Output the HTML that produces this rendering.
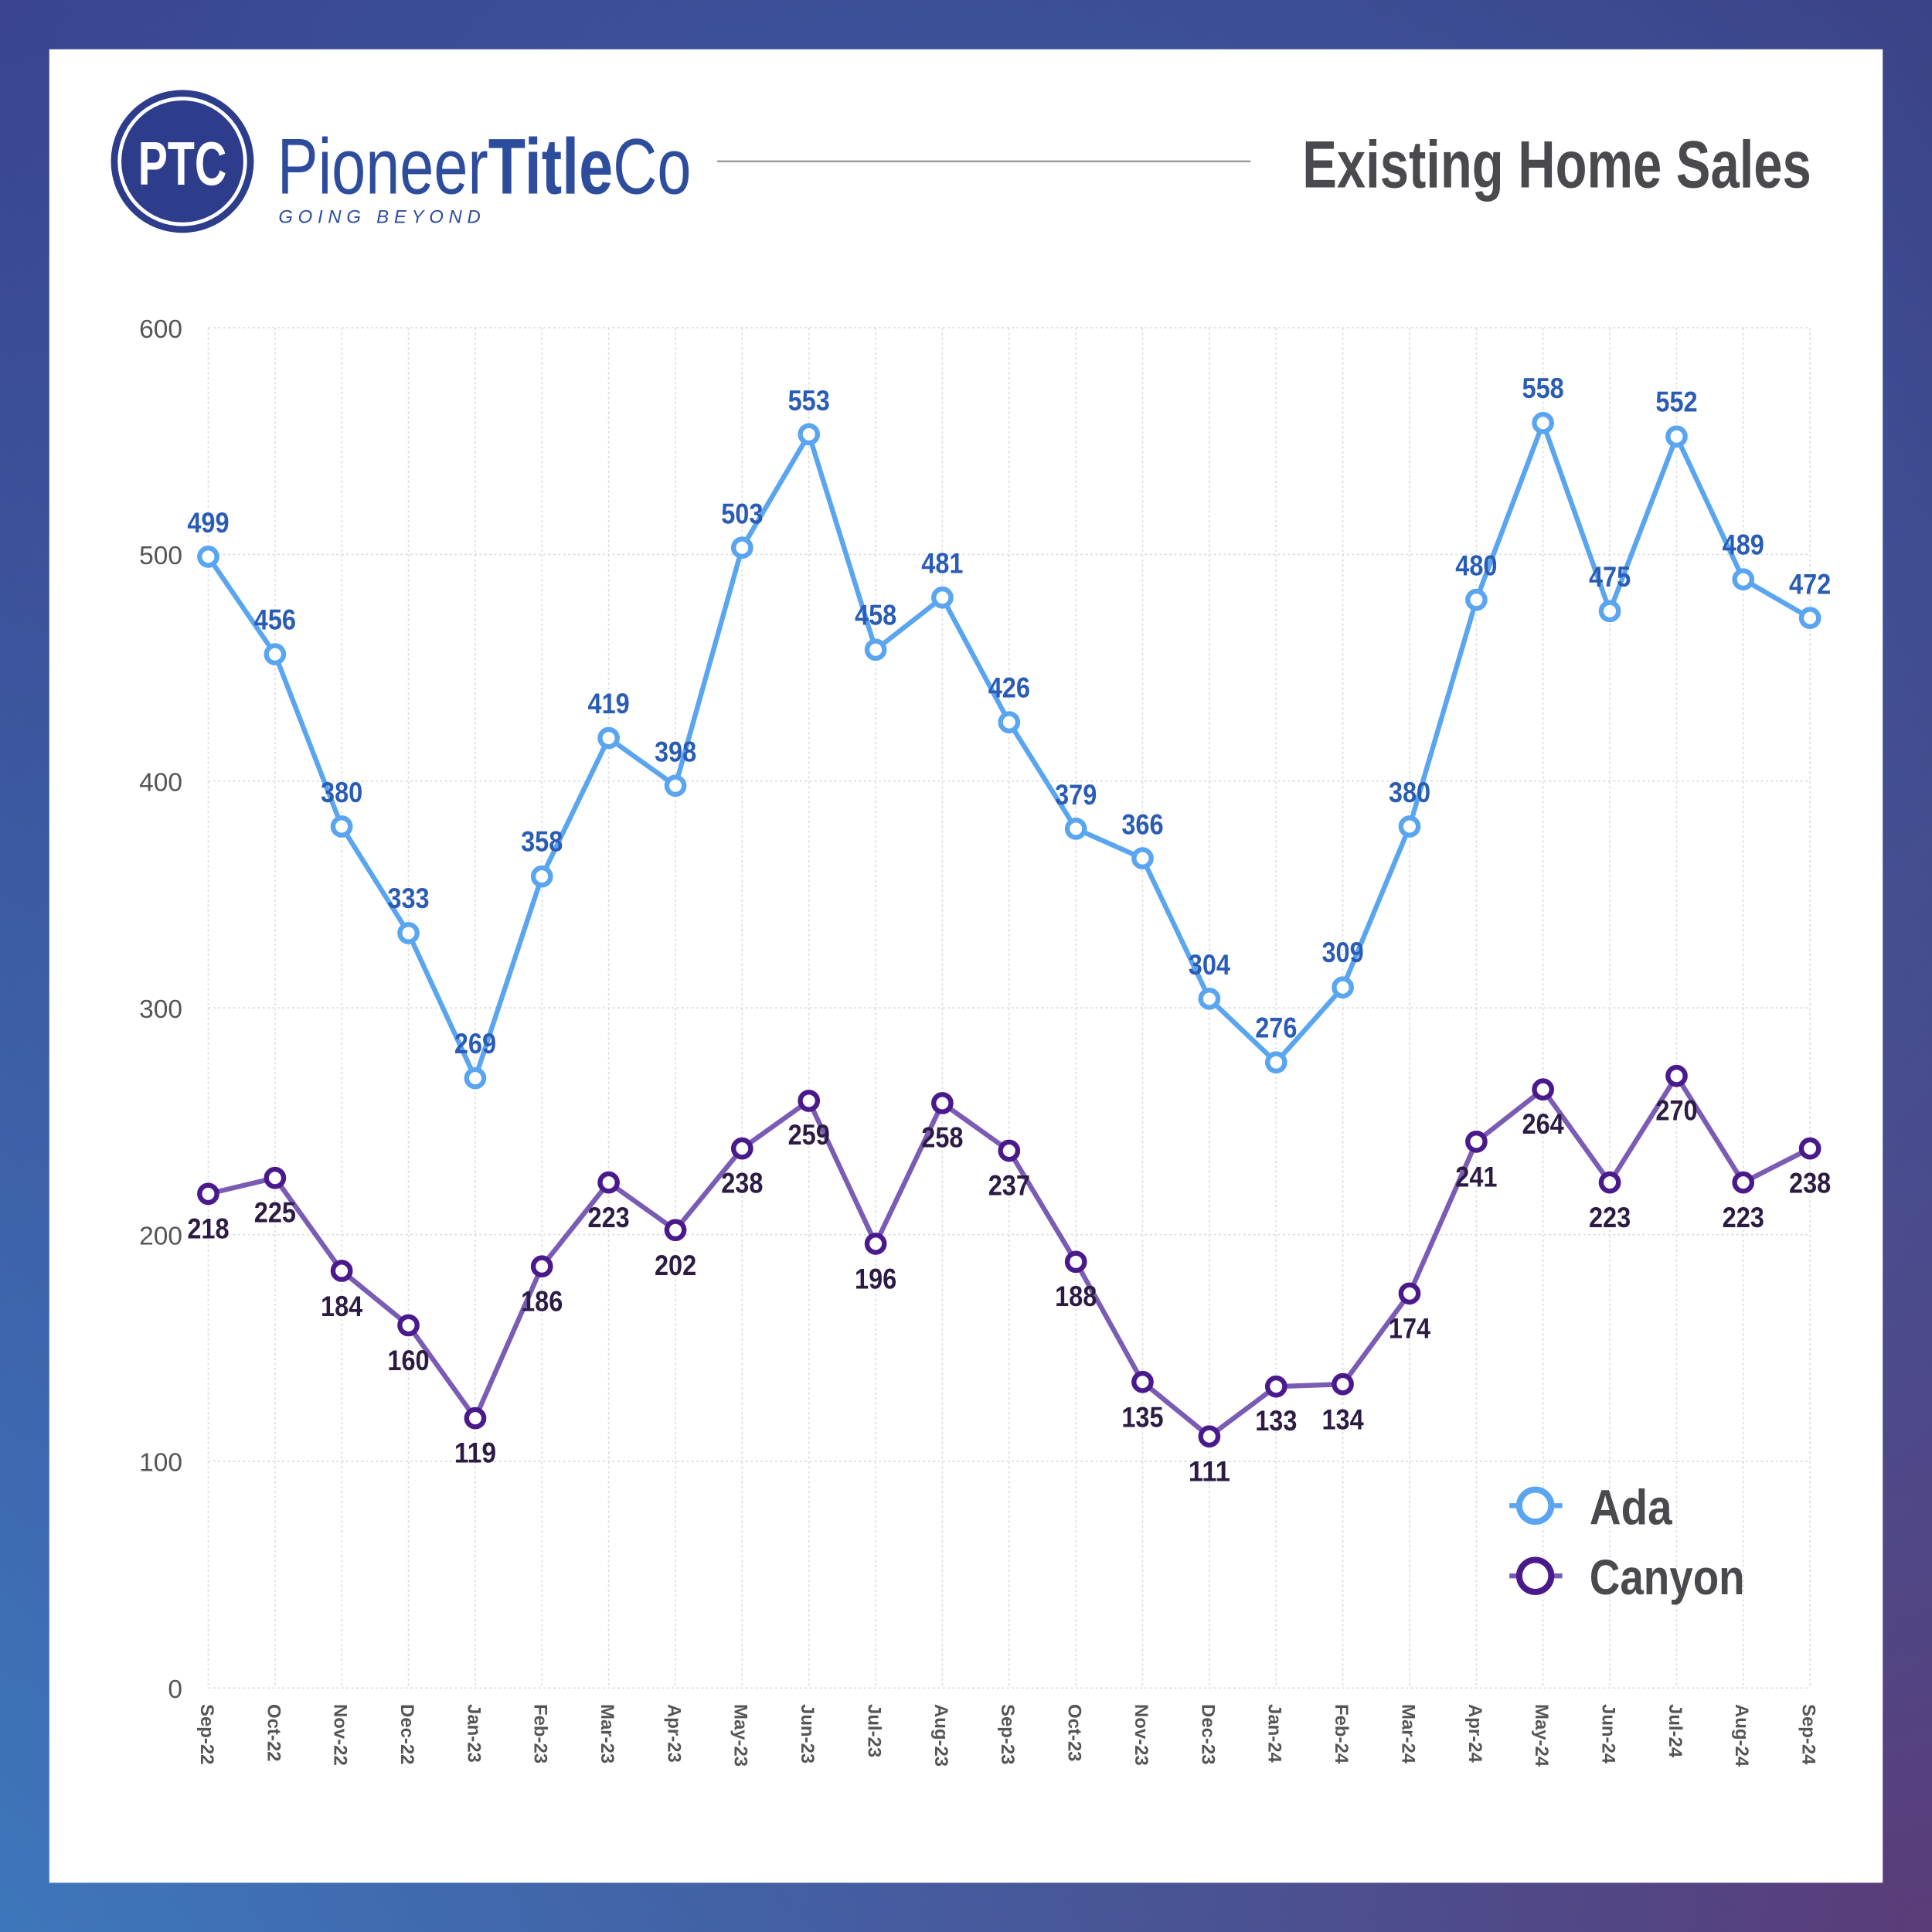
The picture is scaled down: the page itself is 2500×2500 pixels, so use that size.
<!DOCTYPE html>
<html><head><meta charset="utf-8"><style>
html,body{margin:0;padding:0;width:2500px;height:2500px;overflow:hidden}
svg{display:block}
.al{font-family:"Liberation Sans",sans-serif;font-weight:bold;font-size:23px;fill:#2a5cb4;text-anchor:middle}
.cl{font-family:"Liberation Sans",sans-serif;font-weight:bold;font-size:23px;fill:#2c1c44;text-anchor:middle}
.yl{font-family:"Liberation Sans",sans-serif;font-size:21px;fill:#555;text-anchor:end}
.xl{font-family:"Liberation Sans",sans-serif;font-weight:bold;font-size:15px;fill:#555}
</style></head><body>
<svg width="2500" height="2500" viewBox="0 0 1568 1568" xmlns="http://www.w3.org/2000/svg">
<defs>
<linearGradient id="bg" x1="0" y1="0" x2="1" y2="1">
<stop offset="0" stop-color="#3a4490"/><stop offset="0.5" stop-color="#3d62a8"/><stop offset="1" stop-color="#5a3c78"/>
</linearGradient>
<linearGradient id="bg2" x1="1" y1="0" x2="0" y2="1">
<stop offset="0" stop-color="#3b3a7e" stop-opacity="0.8"/><stop offset="0.5" stop-color="#3d5aa0" stop-opacity="0"/><stop offset="1" stop-color="#3f7cc0" stop-opacity="0.8"/>
</linearGradient>
</defs>
<rect width="1568" height="1568" fill="url(#bg)"/>
<rect width="1568" height="1568" fill="url(#bg2)"/>
<rect x="40" y="40" width="1488" height="1488" fill="#fff"/>
<!-- header -->
<circle cx="148" cy="131" r="58" fill="#2d3d8c"/>
<circle cx="148" cy="131" r="51" fill="none" stroke="#fff" stroke-width="3"/>
<text x="148" y="150" font-family="Liberation Sans,sans-serif" font-size="50" font-weight="bold" fill="#fff" text-anchor="middle" textLength="72" lengthAdjust="spacingAndGlyphs">PTC</text>
<text x="225" y="157" font-family="Liberation Sans,sans-serif" font-size="64" fill="#2d4c9c" textLength="336" lengthAdjust="spacingAndGlyphs">Pioneer<tspan font-weight="bold">Title</tspan>Co</text>
<text x="226" y="181" font-family="Liberation Sans,sans-serif" font-size="15" font-style="italic" fill="#2d4c9c" textLength="164" lengthAdjust="spacing">GOING BEYOND</text>
<line x1="582" y1="131" x2="1015" y2="131" stroke="#999" stroke-width="1.5"/>
<text x="1470" y="152" font-family="Liberation Sans,sans-serif" font-size="54" font-weight="bold" fill="#4a4a4e" text-anchor="end" textLength="413" lengthAdjust="spacingAndGlyphs">Existing Home Sales</text>
<!-- grid -->
<g stroke="#ddd" stroke-width="1" stroke-dasharray="2,2">
<line x1="169" y1="266" x2="1469" y2="266"/><line x1="169" y1="450" x2="1469" y2="450"/><line x1="169" y1="634" x2="1469" y2="634"/><line x1="169" y1="818" x2="1469" y2="818"/><line x1="169" y1="1002" x2="1469" y2="1002"/><line x1="169" y1="1186" x2="1469" y2="1186"/><line x1="169" y1="1370" x2="1469" y2="1370"/>
<line x1="169" y1="266" x2="169" y2="1370"/><line x1="223.2" y1="266" x2="223.2" y2="1370"/><line x1="277.3" y1="266" x2="277.3" y2="1370"/><line x1="331.5" y1="266" x2="331.5" y2="1370"/><line x1="385.7" y1="266" x2="385.7" y2="1370"/><line x1="439.8" y1="266" x2="439.8" y2="1370"/><line x1="494" y1="266" x2="494" y2="1370"/><line x1="548.2" y1="266" x2="548.2" y2="1370"/><line x1="602.3" y1="266" x2="602.3" y2="1370"/><line x1="656.5" y1="266" x2="656.5" y2="1370"/><line x1="710.7" y1="266" x2="710.7" y2="1370"/><line x1="764.8" y1="266" x2="764.8" y2="1370"/><line x1="819" y1="266" x2="819" y2="1370"/><line x1="873.2" y1="266" x2="873.2" y2="1370"/><line x1="927.3" y1="266" x2="927.3" y2="1370"/><line x1="981.5" y1="266" x2="981.5" y2="1370"/><line x1="1035.7" y1="266" x2="1035.7" y2="1370"/><line x1="1089.8" y1="266" x2="1089.8" y2="1370"/><line x1="1144" y1="266" x2="1144" y2="1370"/><line x1="1198.2" y1="266" x2="1198.2" y2="1370"/><line x1="1252.3" y1="266" x2="1252.3" y2="1370"/><line x1="1306.5" y1="266" x2="1306.5" y2="1370"/><line x1="1360.7" y1="266" x2="1360.7" y2="1370"/><line x1="1414.8" y1="266" x2="1414.8" y2="1370"/><line x1="1469" y1="266" x2="1469" y2="1370"/>
</g>
<g class="yl">
<text x="148" y="274">600</text><text x="148" y="458">500</text><text x="148" y="642">400</text><text x="148" y="826">300</text><text x="148" y="1010">200</text><text x="148" y="1194">100</text><text x="148" y="1378">0</text>
</g>
<g class="xl">
<text transform="translate(163,1383) rotate(90)">Sep-22</text><text transform="translate(217.2,1383) rotate(90)">Oct-22</text><text transform="translate(271.3,1383) rotate(90)">Nov-22</text><text transform="translate(325.5,1383) rotate(90)">Dec-22</text><text transform="translate(379.7,1383) rotate(90)">Jan-23</text><text transform="translate(433.8,1383) rotate(90)">Feb-23</text><text transform="translate(488,1383) rotate(90)">Mar-23</text><text transform="translate(542.2,1383) rotate(90)">Apr-23</text><text transform="translate(596.3,1383) rotate(90)">May-23</text><text transform="translate(650.5,1383) rotate(90)">Jun-23</text><text transform="translate(704.7,1383) rotate(90)">Jul-23</text><text transform="translate(758.8,1383) rotate(90)">Aug-23</text><text transform="translate(813,1383) rotate(90)">Sep-23</text><text transform="translate(867.2,1383) rotate(90)">Oct-23</text><text transform="translate(921.3,1383) rotate(90)">Nov-23</text><text transform="translate(975.5,1383) rotate(90)">Dec-23</text><text transform="translate(1029.7,1383) rotate(90)">Jan-24</text><text transform="translate(1083.8,1383) rotate(90)">Feb-24</text><text transform="translate(1138,1383) rotate(90)">Mar-24</text><text transform="translate(1192.2,1383) rotate(90)">Apr-24</text><text transform="translate(1246.3,1383) rotate(90)">May-24</text><text transform="translate(1300.5,1383) rotate(90)">Jun-24</text><text transform="translate(1354.7,1383) rotate(90)">Jul-24</text><text transform="translate(1408.8,1383) rotate(90)">Aug-24</text><text transform="translate(1463,1383) rotate(90)">Sep-24</text>
</g>
<!-- Ada -->
<polyline fill="none" stroke="#5aa5f0" stroke-width="4" stroke-linejoin="round" points="169,451.8 223.2,531 277.3,670.8 331.5,757.3 385.7,875 439.8,711.3 494,599 548.2,637.7 602.3,444.5 656.5,352.5 710.7,527.3 764.8,485 819,586.2 873.2,672.6 927.3,696.6 981.5,810.6 1035.7,862.2 1089.8,801.4 1144,670.8 1198.2,486.8 1252.3,343.3 1306.5,496 1360.7,354.3 1414.8,470.2 1469,501.5"/>
<g fill="#fff" stroke="#5aa5f0" stroke-width="4">
<circle cx="169" cy="451.8" r="7"/><circle cx="223.2" cy="531" r="7"/><circle cx="277.3" cy="670.8" r="7"/><circle cx="331.5" cy="757.3" r="7"/><circle cx="385.7" cy="875" r="7"/><circle cx="439.8" cy="711.3" r="7"/><circle cx="494" cy="599" r="7"/><circle cx="548.2" cy="637.7" r="7"/><circle cx="602.3" cy="444.5" r="7"/><circle cx="656.5" cy="352.5" r="7"/><circle cx="710.7" cy="527.3" r="7"/><circle cx="764.8" cy="485" r="7"/><circle cx="819" cy="586.2" r="7"/><circle cx="873.2" cy="672.6" r="7"/><circle cx="927.3" cy="696.6" r="7"/><circle cx="981.5" cy="810.6" r="7"/><circle cx="1035.7" cy="862.2" r="7"/><circle cx="1089.8" cy="801.4" r="7"/><circle cx="1144" cy="670.8" r="7"/><circle cx="1198.2" cy="486.8" r="7"/><circle cx="1252.3" cy="343.3" r="7"/><circle cx="1306.5" cy="496" r="7"/><circle cx="1360.7" cy="354.3" r="7"/><circle cx="1414.8" cy="470.2" r="7"/><circle cx="1469" cy="501.5" r="7"/>
</g>
<g class="al">
<text x="169" y="432" textLength="34" lengthAdjust="spacingAndGlyphs">499</text><text x="223.2" y="511" textLength="34" lengthAdjust="spacingAndGlyphs">456</text><text x="277.3" y="651" textLength="34" lengthAdjust="spacingAndGlyphs">380</text><text x="331.5" y="737" textLength="34" lengthAdjust="spacingAndGlyphs">333</text><text x="385.7" y="855" textLength="34" lengthAdjust="spacingAndGlyphs">269</text><text x="439.8" y="691" textLength="34" lengthAdjust="spacingAndGlyphs">358</text><text x="494" y="579" textLength="34" lengthAdjust="spacingAndGlyphs">419</text><text x="548.2" y="618" textLength="34" lengthAdjust="spacingAndGlyphs">398</text><text x="602.3" y="425" textLength="34" lengthAdjust="spacingAndGlyphs">503</text><text x="656.5" y="333" textLength="34" lengthAdjust="spacingAndGlyphs">553</text><text x="710.7" y="507" textLength="34" lengthAdjust="spacingAndGlyphs">458</text><text x="764.8" y="465" textLength="34" lengthAdjust="spacingAndGlyphs">481</text><text x="819" y="566" textLength="34" lengthAdjust="spacingAndGlyphs">426</text><text x="873.2" y="653" textLength="34" lengthAdjust="spacingAndGlyphs">379</text><text x="927.3" y="677" textLength="34" lengthAdjust="spacingAndGlyphs">366</text><text x="981.5" y="791" textLength="34" lengthAdjust="spacingAndGlyphs">304</text><text x="1035.7" y="842" textLength="34" lengthAdjust="spacingAndGlyphs">276</text><text x="1089.8" y="781" textLength="34" lengthAdjust="spacingAndGlyphs">309</text><text x="1144" y="651" textLength="34" lengthAdjust="spacingAndGlyphs">380</text><text x="1198.2" y="467" textLength="34" lengthAdjust="spacingAndGlyphs">480</text><text x="1252.3" y="323" textLength="34" lengthAdjust="spacingAndGlyphs">558</text><text x="1306.5" y="476" textLength="34" lengthAdjust="spacingAndGlyphs">475</text><text x="1360.7" y="334" textLength="34" lengthAdjust="spacingAndGlyphs">552</text><text x="1414.8" y="450" textLength="34" lengthAdjust="spacingAndGlyphs">489</text><text x="1469" y="482" textLength="34" lengthAdjust="spacingAndGlyphs">472</text>
</g>
<!-- Canyon -->
<polyline fill="none" stroke="#7b5cb4" stroke-width="4" stroke-linejoin="round" points="169,968.9 223.2,956 277.3,1031.4 331.5,1075.6 385.7,1151 439.8,1027.8 494,959.7 548.2,998.3 602.3,932.1 656.5,893.4 710.7,1009.4 764.8,895.3 819,933.9 873.2,1024.1 927.3,1121.6 981.5,1165.8 1035.7,1125.3 1089.8,1123.4 1144,1049.8 1198.2,926.6 1252.3,884.2 1306.5,959.7 1360.7,873.2 1414.8,959.7 1469,932.1"/>
<g fill="#fff" stroke="#4a1a8c" stroke-width="4">
<circle cx="169" cy="968.9" r="7"/><circle cx="223.2" cy="956" r="7"/><circle cx="277.3" cy="1031.4" r="7"/><circle cx="331.5" cy="1075.6" r="7"/><circle cx="385.7" cy="1151" r="7"/><circle cx="439.8" cy="1027.8" r="7"/><circle cx="494" cy="959.7" r="7"/><circle cx="548.2" cy="998.3" r="7"/><circle cx="602.3" cy="932.1" r="7"/><circle cx="656.5" cy="893.4" r="7"/><circle cx="710.7" cy="1009.4" r="7"/><circle cx="764.8" cy="895.3" r="7"/><circle cx="819" cy="933.9" r="7"/><circle cx="873.2" cy="1024.1" r="7"/><circle cx="927.3" cy="1121.6" r="7"/><circle cx="981.5" cy="1165.8" r="7"/><circle cx="1035.7" cy="1125.3" r="7"/><circle cx="1089.8" cy="1123.4" r="7"/><circle cx="1144" cy="1049.8" r="7"/><circle cx="1198.2" cy="926.6" r="7"/><circle cx="1252.3" cy="884.2" r="7"/><circle cx="1306.5" cy="959.7" r="7"/><circle cx="1360.7" cy="873.2" r="7"/><circle cx="1414.8" cy="959.7" r="7"/><circle cx="1469" cy="932.1" r="7"/>
</g>
<g class="cl">
<text x="169" y="1005" textLength="34" lengthAdjust="spacingAndGlyphs">218</text><text x="223.2" y="992" textLength="34" lengthAdjust="spacingAndGlyphs">225</text><text x="277.3" y="1068" textLength="34" lengthAdjust="spacingAndGlyphs">184</text><text x="331.5" y="1112" textLength="34" lengthAdjust="spacingAndGlyphs">160</text><text x="385.7" y="1187" textLength="34" lengthAdjust="spacingAndGlyphs">119</text><text x="439.8" y="1064" textLength="34" lengthAdjust="spacingAndGlyphs">186</text><text x="494" y="996" textLength="34" lengthAdjust="spacingAndGlyphs">223</text><text x="548.2" y="1035" textLength="34" lengthAdjust="spacingAndGlyphs">202</text><text x="602.3" y="968" textLength="34" lengthAdjust="spacingAndGlyphs">238</text><text x="656.5" y="929" textLength="34" lengthAdjust="spacingAndGlyphs">259</text><text x="710.7" y="1046" textLength="34" lengthAdjust="spacingAndGlyphs">196</text><text x="764.8" y="931" textLength="34" lengthAdjust="spacingAndGlyphs">258</text><text x="819" y="970" textLength="34" lengthAdjust="spacingAndGlyphs">237</text><text x="873.2" y="1060" textLength="34" lengthAdjust="spacingAndGlyphs">188</text><text x="927.3" y="1158" textLength="34" lengthAdjust="spacingAndGlyphs">135</text><text x="981.5" y="1202" textLength="34" lengthAdjust="spacingAndGlyphs">111</text><text x="1035.7" y="1161" textLength="34" lengthAdjust="spacingAndGlyphs">133</text><text x="1089.8" y="1160" textLength="34" lengthAdjust="spacingAndGlyphs">134</text><text x="1144" y="1086" textLength="34" lengthAdjust="spacingAndGlyphs">174</text><text x="1198.2" y="963" textLength="34" lengthAdjust="spacingAndGlyphs">241</text><text x="1252.3" y="920" textLength="34" lengthAdjust="spacingAndGlyphs">264</text><text x="1306.5" y="996" textLength="34" lengthAdjust="spacingAndGlyphs">223</text><text x="1360.7" y="909" textLength="34" lengthAdjust="spacingAndGlyphs">270</text><text x="1414.8" y="996" textLength="34" lengthAdjust="spacingAndGlyphs">223</text><text x="1469" y="968" textLength="34" lengthAdjust="spacingAndGlyphs">238</text>
</g>
<!-- legend -->
<line x1="1225" y1="1222" x2="1268" y2="1222" stroke="#5aa5f0" stroke-width="4"/>
<circle cx="1246" cy="1222" r="13" fill="#fff" stroke="#5aa5f0" stroke-width="5"/>
<text x="1290" y="1237" font-family="Liberation Sans,sans-serif" font-size="40" font-weight="bold" fill="#4a4a4e" textLength="67" lengthAdjust="spacingAndGlyphs">Ada</text>
<line x1="1225" y1="1279" x2="1268" y2="1279" stroke="#7b5cb4" stroke-width="4"/>
<circle cx="1246" cy="1279" r="13" fill="#fff" stroke="#4a1a8c" stroke-width="5"/>
<text x="1290" y="1294" font-family="Liberation Sans,sans-serif" font-size="40" font-weight="bold" fill="#4a4a4e" textLength="126" lengthAdjust="spacingAndGlyphs">Canyon</text>
</svg>
</body></html>
